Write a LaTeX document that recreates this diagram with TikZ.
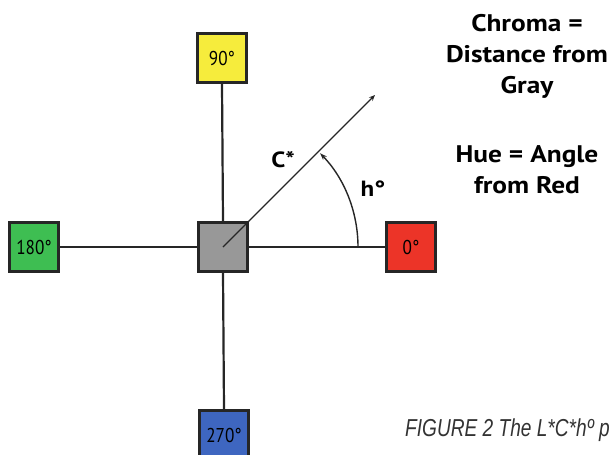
\documentclass[tikz,border=0pt]{standalone}
\usepackage{fontspec}
\setmainfont{PT Sans}
\newfontfamily\lblfont[FakeStretch=1.14]{PT Sans}
\newfontfamily\boxfont[FakeStretch=0.86]{PT Sans}
\newfontfamily\capfont[FakeStretch=0.78]{Liberation Sans}
\usetikzlibrary{arrows.meta}
\definecolor{cyel}{RGB}{246,236,60}
\definecolor{cgrn}{RGB}{62,190,82}
\definecolor{cred}{RGB}{236,52,40}
\definecolor{cblu}{RGB}{62,102,192}
\definecolor{cgry}{RGB}{152,152,152}
\begin{document}
\begin{tikzpicture}[x=1pt,y=-1pt,
  hbox/.style={draw=black!85,line width=3pt,minimum size=49pt,inner sep=0pt,font=\boxfont\fontsize{20}{20}\selectfont},
  axis/.style={line width=2.2pt,black!85},
  lbl/.style={font=\lblfont\bfseries\fontsize{24}{31}\selectfont,align=center}]
\useasboundingbox (0,0) rectangle (614,455);
\node[hbox,fill=cgry] (c) at (223,247) {};
\node[hbox,fill=cyel] (y) at (222,58) {90°};
\node[hbox,fill=cgrn] (g) at (34,247) {180°};
\node[hbox,fill=cred] (r) at (411,247) {0°};
\node[hbox,fill=cblu,anchor=north] (b) at (224,409) {270°};
\draw[axis] (y.south) -- (c.north);
\draw[axis] (c.south) -- (b.north);
\draw[axis] (g.east) -- (c.west);
\draw[axis] (c.east) -- (r.west);
\coordinate (tip) at (375,95);
\draw[line width=1.4pt,black!85,-{Stealth[length=6pt,width=5pt]}] (c.center) -- (tip);
\coordinate (a0) at (358,247);
\draw[line width=1.4pt,black!85,-{Stealth[length=7pt,width=5pt]}] (a0) arc[start angle=0,end angle=-44,radius=135];
\node[font=\lblfont\bfseries\fontsize{22}{22}\selectfont] (cs) at (283,160) {C*};
\node[font=\lblfont\bfseries\fontsize{22}{22}\selectfont] (hs) at (373,189) {h°};
\node[lbl] (t1) at (527,56) {Chroma =\\Distance from\\Gray};
\node[lbl] (t2) at (527,170) {Hue = Angle\\from Red};
\node[anchor=base west,font=\capfont\itshape\fontsize{24.5}{24}\selectfont,text=black!80,inner sep=0pt] (cap) at (405,436) {FIGURE 2 The L*C*hº p};
\end{tikzpicture}
\end{document}
